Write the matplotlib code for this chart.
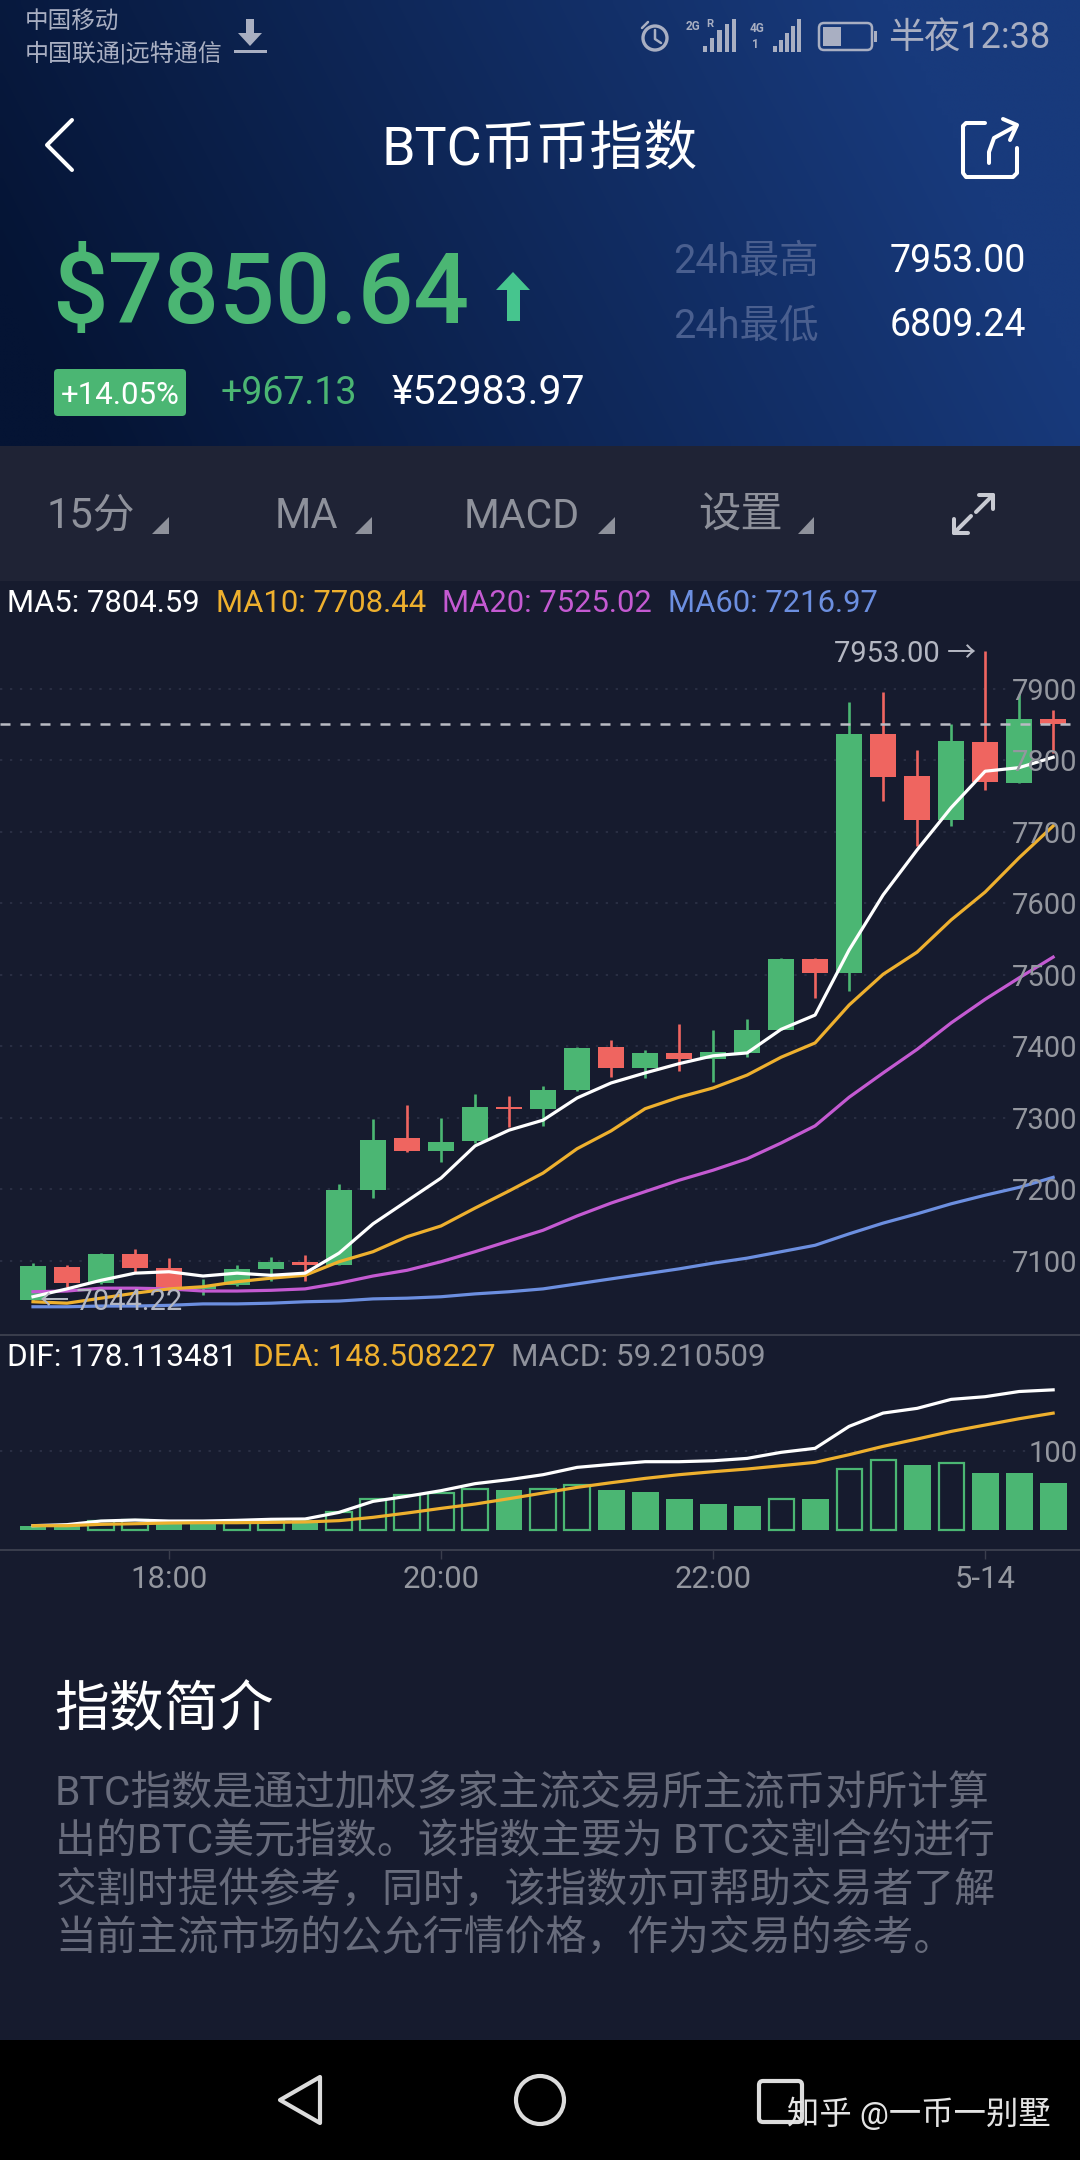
import matplotlib
matplotlib.use("Agg")
import matplotlib.pyplot as plt
import numpy as np
from matplotlib.patches import Circle, FancyBboxPatch, Polygon, Rectangle

plt.rcParams['font.family'] = ['Roboto', 'Noto Sans CJK SC', 'DejaVu Sans']

# candles
opens = [7045.5, 7092, 7069, 7110, 7090, 7061, 7066, 7089, 7099, 7094, 7199, 7272, 7254, 7268, 7315, 7313,
         7339, 7399, 7370, 7391, 7383, 7391, 7423, 7522, 7503, 7837, 7778, 7717, 7826, 7768, 7858]
closes = [7093, 7069, 7110, 7090, 7060, 7065, 7089, 7099, 7095, 7199, 7269, 7254, 7266, 7315, 7313, 7339,
          7398, 7370, 7391, 7383, 7392, 7423, 7522, 7503, 7837, 7777, 7717, 7827, 7770, 7858, 7850.64]
highs = [7097, 7094, 7111, 7117, 7104, 7075, 7094, 7106, 7108, 7208, 7299, 7318, 7300, 7334, 7331, 7345,
         7399, 7409, 7395, 7431, 7423, 7438, 7524, 7524, 7882, 7896, 7815, 7851, 7953, 7893, 7871]
lows = [7044.22, 7064, 7068, 7085, 7058, 7052, 7065, 7072, 7072, 7094, 7188, 7252, 7238, 7265, 7287, 7289,
        7338, 7357, 7356, 7366, 7350, 7385, 7423, 7468, 7478, 7743, 7680, 7708, 7759, 7768, 7810]

ma5 = [7050, 7061, 7073, 7083, 7085, 7079, 7083, 7080, 7083, 7111, 7152, 7184, 7216, 7261, 7283, 7297,
       7328, 7349, 7363, 7376, 7387, 7391, 7424, 7444, 7535, 7612, 7675, 7734, 7785, 7790, 7804.59]
ma10 = [7043, 7041, 7048, 7055, 7061, 7064, 7071, 7076, 7080, 7099, 7113, 7134, 7149, 7174, 7198, 7223,
        7257, 7282, 7313, 7329, 7342, 7360, 7385, 7405, 7458, 7501, 7532, 7577, 7616, 7664, 7708.44]
ma20 = [7057, 7058, 7062, 7062, 7061, 7058, 7058, 7059, 7061, 7069, 7079, 7087, 7099, 7113, 7128, 7143,
        7163, 7181, 7197, 7213, 7227, 7243, 7265, 7289, 7329, 7363, 7396, 7433, 7466, 7496, 7525.02]
ma60 = [7036, 7036, 7037, 7037, 7038, 7040, 7040, 7041, 7043, 7044, 7047, 7048, 7050, 7054, 7057, 7061,
        7068, 7075, 7082, 7089, 7097, 7104, 7113, 7122, 7138, 7153, 7166, 7180, 7192, 7203, 7216.97]

dif = [5.5, 6.8, 11.4, 12.7, 11.4, 11.4, 12.3, 13.6, 14, 22.4, 36.4, 42.8, 50, 58.9, 64, 70.3,
       79.6, 83.4, 86.8, 86.8, 88, 91, 98.7, 103.8, 131.7, 148.6, 154.6, 166, 169.4, 176, 178.11]
dea = [5.5, 5.5, 7.2, 8, 8.9, 9.3, 9.3, 9.7, 10.2, 11.9, 16.1, 21.6, 27.5, 33, 39.8, 47,
       54.2, 60.1, 65.6, 70.3, 74.1, 77.5, 81.7, 86, 95.7, 106.3, 115.6, 125.3, 133.4, 141.4, 148.51]
macd = [5.5, 7, 12, 13, 12, 11, 10, 11, 13, 23, 39, 44, 47, 52, 51, 52,
        57, 51, 48, 40, 33, 31, 39, 39, 78, 88.5, 82, 85, 73, 72, 59.21]
macd_rising = [0, 0, 1, 1, 0, 0, 1, 1, 0, 1, 1, 1, 1, 1, 0, 1,
               1, 0, 0, 0, 0, 0, 1, 0, 1, 1, 0, 1, 0, 0, 0]

price_ticks = [7100, 7200, 7300, 7400, 7500, 7600, 7700, 7800, 7900]
time_ticks = [4, 12, 20, 28]
time_labels = ['18:00', '20:00', '22:00', '5-14']
last_price = 7850.64

GREEN = '#4bb673'
RED = '#ef6560'
WHITE = '#ffffff'
ORANGE = '#eeb02e'
PURPLE = '#c45ad2'
BLUE = '#6c8fe0'
GREY = '#8e919b'
PANEL = '#161b2e'

fig = plt.figure(figsize=(10.8, 21.6), dpi=100, facecolor=PANEL)

# the app around the chart, in pixels
bg = fig.add_axes([0, 0, 1, 1], zorder=0)
bg.axis('off')

gx, gy = np.meshgrid(np.linspace(0, 1, 200), np.linspace(0, 1, 60))
t = np.clip(gx * 1.05 + 0.22 * (1 - gy) - 0.08, 0, 1)[..., None]
grad = (1 - t) * np.array([5, 20, 52]) / 255 + t * np.array([24, 58, 124]) / 255
bg.imshow(grad, extent=(0, 1080, 446, 0), aspect='auto', interpolation='bilinear')
bg.set_xlim(0, 1080)
bg.set_ylim(2160, 0)
bg.add_patch(Rectangle((0, 446), 1080, 135, color='#1f2335', lw=0))
bg.add_patch(Rectangle((0, 2040), 1080, 120, color='#000000', lw=0))


def label(x, y, s, size, color, ha='left', weight='normal'):
    bg.text(x, y + 3, s, fontsize=size, color=color, ha=ha, va='center', fontweight=weight)


def stroke(xs, ys, color=WHITE, lw=2.9):
    bg.plot(xs, ys, color=color, lw=lw, solid_capstyle='round', solid_joinstyle='round')


# status bar
STATUS = '#a9afc2'
label(25, 19, '中国移动', 17, STATUS)
label(25, 51, '中国联通|远特通信', 17.3, STATUS)
label(1050, 35, '半夜12:38', 26, STATUS, ha='right')
bg.add_patch(Rectangle((246, 19), 8, 15, color=STATUS, lw=0))
bg.add_patch(Polygon([(238, 33), (262, 33), (250, 46)], color=STATUS, lw=0))
bg.add_patch(Rectangle((234, 50), 33, 3, color=STATUS, lw=0))
bg.add_patch(Circle((655, 38), 12, fill=False, ec=STATUS, lw=2.4))
stroke([655, 655, 661], [30, 39, 43], STATUS, 1.8)
stroke([642, 648], [28, 22], STATUS, 1.8)
label(686, 24, '2G', 8.5, STATUS, weight='bold')
label(706, 21, 'R', 8, STATUS, weight='bold')
label(750, 26, '4G', 8.5, STATUS, weight='bold')
label(752, 41, '1', 8.5, STATUS, weight='bold')
for i, top in enumerate([46, 38, 30, 24, 19]):
    bg.add_patch(Rectangle((703 + i * 7.2, top), 4.2, 52 - top, color=STATUS, lw=0))
for i, top in enumerate([46, 40, 33, 26, 19]):
    bg.add_patch(Rectangle((773 + i * 6, top), 3.6, 52 - top, color=STATUS, lw=0))
bg.add_patch(FancyBboxPatch((819, 23), 53, 27, boxstyle='round,pad=0,rounding_size=5', fill=False, ec=STATUS, lw=1.8))
bg.add_patch(Rectangle((823, 27), 18, 19, color=STATUS, lw=0))
bg.add_patch(Rectangle((874, 31), 3, 11, color=STATUS, lw=0))

# title row
stroke([72, 47, 72], [120, 145, 170])
bg.text(540, 151, 'BTC币币指数', fontsize=38.8, color=WHITE, ha='center', va='center')
stroke([985, 966, 963, 963, 966, 1013, 1017, 1017], [123, 123, 126, 173, 177, 177, 173, 148])
stroke([989, 989, 994, 1016], [163, 152, 138, 126])
stroke([1003, 1017, 1010], [119, 125, 140])

# price block
label(52, 293, '$7850.64', 70.5, GREEN, weight='medium')
bg.add_patch(Polygon([(496, 290), (513, 272), (530, 290), (520, 290), (520, 321), (507, 321), (507, 290)],
                     color='#46c58e', lw=0))
label(673, 259, '24h最高', 28.5, '#4a5f8f')
label(673, 323, '24h最低', 28.5, '#4a5f8f')
label(1026, 259, '7953.00', 27, WHITE, ha='right')
label(1026, 323, '6809.24', 27, WHITE, ha='right')
bg.add_patch(FancyBboxPatch((54, 369), 132, 47, boxstyle='round,pad=0,rounding_size=4', color=GREEN, lw=0))
label(120, 392, '+14.05%', 22.5, WHITE, ha='center')
label(221, 391, '+967.13', 27, GREEN)
label(392, 390, '¥52983.97', 29.5, WHITE)

# toolbar
label(47, 513, '15分', 30, GREY)
label(275, 513, 'MA', 30, GREY)
label(464, 513, 'MACD', 29.5, GREY)
label(698, 513, '设置', 30.5, GREY)
for x0, x1 in [(152, 169), (355, 372), (598, 615), (798, 814)]:
    bg.add_patch(Polygon([(x0, 534), (x1, 534), (x1, 517)], color=GREY, lw=0))
ICON = '#c8cad2'
stroke([979, 993, 993], [495, 495, 509], ICON)
stroke([993, 976], [495, 512], ICON)
stroke([954, 954, 968], [519, 533, 533], ICON)
stroke([954, 971], [533, 516], ICON)

# chart headers
for x, s, c in [(7, 'MA5: 7804.59', WHITE), (216, 'MA10: 7708.44', ORANGE),
                (442, 'MA20: 7525.02', PURPLE), (668, 'MA60: 7216.97', BLUE)]:
    label(x, 600, s, 22.3, c)
for x, s, c in [(7, 'DIF: 178.113481', WHITE), (253, 'DEA: 148.508227', ORANGE),
                (511, 'MACD: 59.210509', GREY)]:
    label(x, 1355, s, 22.7, c)

# text under the chart
label(54, 1708, '指数简介', 39.5, WHITE)
DESC = '#686c7c'
label(55, 1790, 'BTC指数是通过加权多家主流交易所主流币对所计算', 29.4, DESC)
label(55, 1838, '出的BTC美元指数。该指数主要为 BTC交割合约进行', 29.4, DESC)
label(55, 1887, '交割时提供参考，同时，该指数亦可帮助交易者了解', 29.4, DESC)
label(55, 1935, '当前主流市场的公允行情价格，作为交易的参考。', 29.4, DESC)

# navigation bar
NAV = '#dcdcdc'
bg.add_patch(Polygon([(280, 2100), (320, 2077), (320, 2123)], fill=False, ec=NAV, lw=3, joinstyle='round'))
bg.add_patch(Circle((540, 2100), 24, fill=False, ec=NAV, lw=3))
bg.add_patch(FancyBboxPatch((759, 2081), 43, 41, boxstyle='round,pad=0,rounding_size=4', fill=False, ec=NAV, lw=3))
label(1051, 2110, '知乎 @一币一别墅', 23.3, '#e4e4e4', ha='right')

# candlestick panel
x = np.arange(len(opens))
opens_a, closes_a = np.array(opens), np.array(closes)
up = closes_a >= opens_a
colors = [GREEN if u else RED for u in up]

ax = fig.add_axes([0, 1 - 1335 / 2160, 1, 715 / 2160], zorder=1)
ax.patch.set_alpha(0)
ax.set_xlim(-0.97, 30.79)
ax.set_ylim(6996.5, 7996.5)
ax.hlines(price_ticks, -0.97, 28.6, color='#30354a', lw=1.1, linestyles=(0, (1.5, 5)), zorder=0.5)
ax.vlines(x, lows, highs, color=colors, lw=1.9, zorder=1.8)
ax.bar(x, np.abs(closes_a - opens_a), bottom=np.minimum(opens_a, closes_a), width=0.77, color=colors, zorder=1.9)
for series, c in [(ma60, BLUE), (ma20, PURPLE), (ma10, ORANGE), (ma5, WHITE)]:
    ax.plot(x, series, color=c, lw=2.3, solid_joinstyle='round', zorder=2)
ax.axhline(last_price, color='#b9bbc4', lw=1.8, dashes=(4, 4), zorder=2.2)

ax.set_axisbelow(False)
ax.yaxis.tick_right()
ax.set_yticks(price_ticks)
ax.set_xticks([])
ax.tick_params(axis='y', length=0, pad=-2, labelsize=21, labelcolor='#94979f')
for tick in ax.get_yticklabels():
    tick.set_horizontalalignment('right')
for side in ['top', 'left', 'right']:
    ax.spines[side].set_visible(False)
ax.spines['bottom'].set_color('#3a3e4d')
ax.spines['bottom'].set_linewidth(1.4)

ax.annotate('7953.00 →', xy=(x[28], max(highs)), xytext=(-6.5, -2), textcoords='offset points',
            ha='right', va='center', fontsize=21, color='#b4b7c2', zorder=3)
ax.annotate('← 7044.22', xy=(x[0], min(lows)), xytext=(5, -1), textcoords='offset points',
            ha='left', va='center', fontsize=21, color='#b4b7c2', zorder=3)

# MACD panel
ax2 = fig.add_axes([0, 1 - 1550 / 2160, 1, 215 / 2160], zorder=1)
ax2.patch.set_alpha(0)
ax2.set_xlim(-0.97, 30.79)
ax2.set_ylim(-25.4, 247.8)
ax2.hlines([100], -0.97, 29.3, color='#30354a', lw=1.1, linestyles=(0, (1.5, 5)), zorder=0.5)
for i, v in enumerate(macd):
    if macd_rising[i]:
        ax2.bar(i, v, width=0.74, facecolor='none', edgecolor=GREEN, lw=1.6, zorder=1.9)
    else:
        ax2.bar(i, v, width=0.79, color=GREEN, zorder=1.9)
ax2.plot(x, dif, color=WHITE, lw=2.3, solid_joinstyle='round', zorder=2)
ax2.plot(x, dea, color=ORANGE, lw=2.3, solid_joinstyle='round', zorder=2.1)

ax2.set_axisbelow(False)
ax2.yaxis.tick_right()
ax2.set_yticks([100])
ax2.tick_params(axis='y', length=0, pad=-2, labelsize=21, labelcolor='#94979f')
for tick in ax2.get_yticklabels():
    tick.set_horizontalalignment('right')
ax2.set_xticks(time_ticks)
ax2.set_xticklabels(time_labels)
ax2.tick_params(axis='x', length=6.5, width=1, color='#3a3e4d', pad=4, labelsize=22.3, labelcolor='#94979f')
for side in ['top', 'left', 'right']:
    ax2.spines[side].set_visible(False)
ax2.spines['bottom'].set_color('#3a3e4d')
ax2.spines['bottom'].set_linewidth(1.4)

fig.savefig('out.png', dpi=100, facecolor=fig.get_facecolor())
